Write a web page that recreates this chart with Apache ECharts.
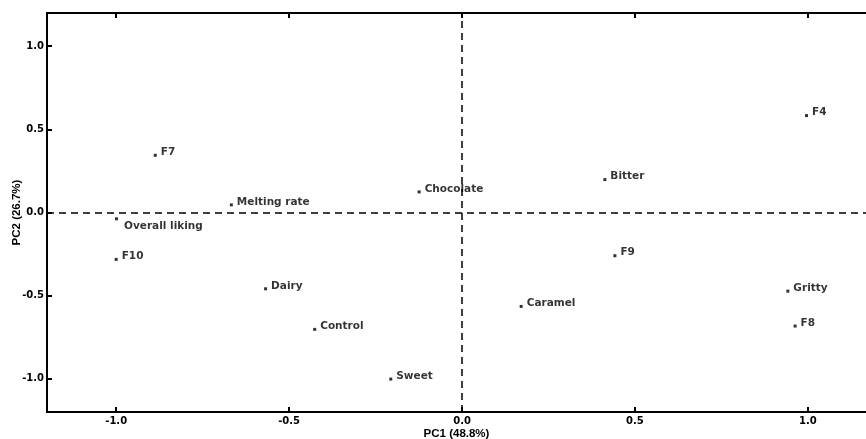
<!DOCTYPE html>
<html>
<head>
<meta charset="utf-8">
<script src="https://cdn.jsdelivr.net/npm/echarts@6/dist/echarts.min.js"></script>
<style>
html,body{margin:0;padding:0;background:#fff;}
#chart{width:866px;height:439px;}
</style>
</head>
<body>
<div id="chart"></div>
<script>
const names = ['F7','Melting rate','Overall liking','F10','Dairy','Control','Sweet','Chocolate','Caramel','F4','Bitter','F9','Gritty','F8'];
const pc1 = [-0.887,-0.667,-0.999,-1.0,-0.568,-0.426,-0.206,-0.124,0.171,0.996,0.413,0.442,0.942,0.963];
const pc2 = [0.344,0.046,-0.038,-0.282,-0.459,-0.703,-1.002,0.124,-0.565,0.583,0.198,-0.260,-0.473,-0.683];
const tickValues = [-1.0,-0.5,0.0,0.5,1.0];

const font = 'DejaVu Sans';
const nameFont = 'Liberation Sans';
const data = names.map((n,i)=>{
  const below = n === 'Overall liking';
  return {
    name: n, value: [pc1[i], pc2[i]],
    label: below ? {position:'right', offset:[2,7]} : {position:'right', offset:[0,-3]}
  };
});

const chart = echarts.init(document.getElementById('chart'));
chart.setOption({
  animation:false,
  grid:{left:47, top:13, right:0, bottom:27, containLabel:false, outerBoundsMode:'none'},
  xAxis:[{
    type:'value', min:-1.2, max:1.168, position:'bottom',
    name:'PC1 (48.8%)', nameLocation:'middle', nameGap:16, nameMoveOverlap:false,
    nameTextStyle:{fontFamily:nameFont, fontWeight:'bold', fontSize:11.5, color:'#000'},
    axisLine:{show:true, onZero:false, lineStyle:{color:'#000', width:2}},
    axisTick:{show:true, inside:true, length:5, customValues:tickValues, lineStyle:{color:'#000', width:2}},
    axisLabel:{customValues:tickValues, formatter:v=>v.toFixed(1), fontFamily:font, fontWeight:'bold', fontSize:10, color:'#000', margin:4},
    splitLine:{show:false}
  },{
    type:'value', min:-1.2, max:1.168, position:'top',
    axisLine:{show:true, onZero:false, lineStyle:{color:'#000', width:2}},
    axisTick:{show:true, inside:true, length:5, customValues:tickValues, lineStyle:{color:'#000', width:2}},
    axisLabel:{show:false}, splitLine:{show:false}
  }],
  yAxis:[{
    type:'value', min:-1.2, max:1.2, position:'left',
    name:'PC2 (26.7%)', nameLocation:'middle', nameGap:24, nameRotate:90, nameMoveOverlap:false,
    nameTextStyle:{fontFamily:nameFont, fontWeight:'bold', fontSize:11.5, color:'#000'},
    axisLine:{show:true, onZero:false, lineStyle:{color:'#000', width:2}},
    axisTick:{show:true, inside:true, length:5, customValues:tickValues, lineStyle:{color:'#000', width:2}},
    axisLabel:{customValues:tickValues, formatter:v=>v.toFixed(1), fontFamily:font, fontWeight:'bold', fontSize:10, color:'#000', margin:3},
    splitLine:{show:false}
  }],
  series:[{
    type:'scatter', symbol:'rect', symbolSize:3,
    itemStyle:{color:'#000'},
    label:{show:true, formatter:'{b}', fontFamily:font, fontWeight:'bold', fontSize:10.5, color:'#000', distance:4},
    data:data,
    markLine:{
      silent:true, symbol:'none', label:{show:false},
      lineStyle:{color:'#000', type:[7,5], width:1.5},
      data:[{xAxis:0},{yAxis:0}]
    }
  }]
});
</script>
</body>
</html>
